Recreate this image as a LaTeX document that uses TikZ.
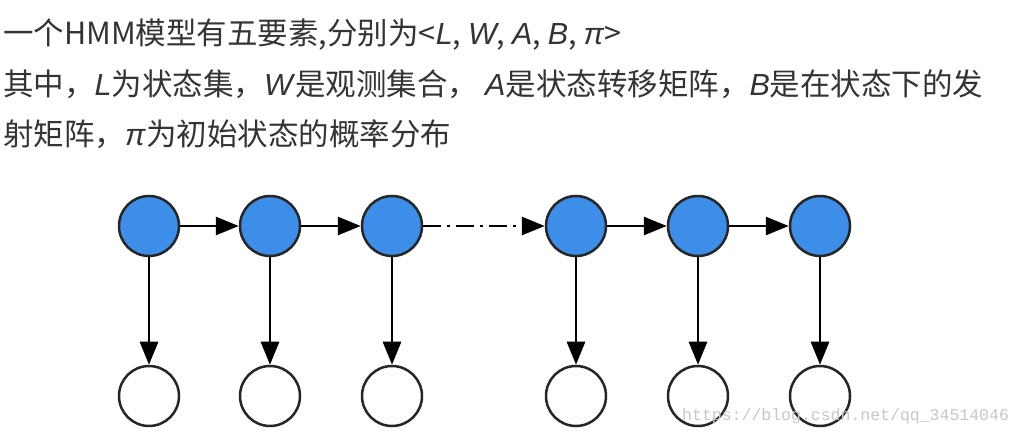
\documentclass[tikz,border=0pt]{standalone}
\usepackage{fontspec}
\setmainfont{Noto Sans CJK SC}[ItalicFont={Liberation Sans Italic}]
\newfontfamily\wmfont{Liberation Mono}
\usetikzlibrary{arrows.meta}
\definecolor{statoblu}{RGB}{61,142,232}
\definecolor{testo}{RGB}{52,52,56}

\begin{document}
\begin{tikzpicture}[x=1pt, y=-1pt,
  every node/.style={inner sep=0pt},
  stato/.style={circle, draw=black!85, line width=2.5pt, fill=statoblu, minimum size=60pt},
  oss/.style={circle, draw=black!85, line width=2.5pt, fill=white, minimum size=60pt},
  freccia/.style={line width=2.8pt, -{Triangle[length=23pt,width=18pt]}},
  riga/.style={anchor=base west, text=testo, font=\fontsize{30.5}{30.5}\selectfont}]
  \useasboundingbox (0,0) rectangle (1022,435);

  % testo
  \node[riga] (r1) at (3,45) {一个HMM模型有五要素,分别为<\textit{L}, \textit{W}, \textit{A}, \textit{B}, \textit{π}>};
  \node[riga] (r2) at (3,96) {其中，\textit{L}为状态集，\textit{W}是观测集合， \textit{A}是状态转移矩阵，\textit{B}是在状态下的发};
  \node[riga] (r3) at (3,146) {射矩阵，\textit{π}为初始状态的概率分布};

  % stati e osservazioni
  \foreach \i/\x in {1/149,2/270,3/392,4/576,5/698,6/820} {
    \node[stato] (s\i) at (\x,226) {};
    \node[oss] (o\i) at (\x,396) {};
  }

  % frecce verticali
  \foreach \i in {1,...,6}
    \draw[freccia] (s\i) -- (o\i);

  % frecce orizzontali
  \foreach \a/\b in {1/2,2/3,4/5,5/6}
    \draw[freccia] (s\a) -- (s\b);
  \draw[freccia, dash pattern=on 18pt off 6pt on 3pt off 6pt] (s3) -- (s4);

  % filigrana
  \node[anchor=base west, text=black!22, font=\wmfont\fontsize{16.5}{16.5}\selectfont] (wm) at (682,420) {https://blog.csdn.net/qq\_34514046};
\end{tikzpicture}
\end{document}
